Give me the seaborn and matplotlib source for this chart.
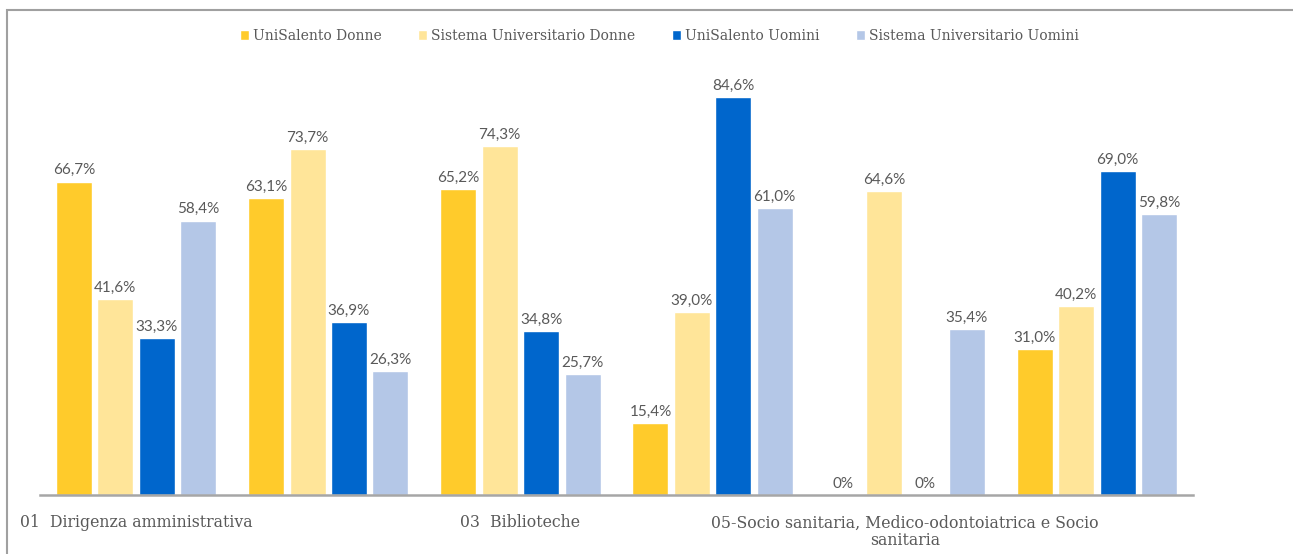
import textwrap
import pandas as pd
import matplotlib.pyplot as plt
import seaborn as sns
from matplotlib.patches import Rectangle

categories = [
    '01  Dirigenza amministrativa',
    '02  Amministrativa e amministrativa-gestionale',
    '03  Biblioteche',
    '04  Tecnica, tecnico-scientifica ed elaborazione dati',
    '05-Socio sanitaria, Medico-odontoiatrica e Socio sanitaria',
    '06  Servizi generali e tecnici',
]
series = ['UniSalento Donne', 'Sistema Universitario Donne',
          'UniSalento Uomini', 'Sistema Universitario Uomini']
unisalento_donne = [66.7, 63.1, 65.2, 15.4, 0.0, 31.0]
sistema_donne = [41.6, 73.7, 74.3, 39.0, 64.6, 40.2]
unisalento_uomini = [33.3, 36.9, 34.8, 84.6, 0.0, 69.0]
sistema_uomini = [58.4, 26.3, 25.7, 61.0, 35.4, 59.8]

colors = ['#FFCB2B', '#FFE599', '#0066CC', '#B4C7E7']
grey = '#595959'

rows = []
for s, vals in zip(series, [unisalento_donne, sistema_donne, unisalento_uomini, sistema_uomini]):
    for c, v in zip(categories, vals):
        rows.append({'Area': c, 'Serie': s, 'Valore': v})
df = pd.DataFrame(rows)

sns.set_style('white')
plt.rcParams['font.family'] = ['DejaVu Serif']

fig = plt.figure(figsize=(12.93, 5.54), dpi=100)
ax = fig.add_axes([40 / 1293, 59 / 554, 1153 / 1293, 423 / 554])

sns.barplot(data=df, x='Area', y='Valore', hue='Serie', order=categories,
            hue_order=series, palette=colors, width=0.862, saturation=1,
            ax=ax, legend=True)

# small white gap between bars
for p in ax.patches:
    w = p.get_width()
    p.set_x(p.get_x() + w * 0.065)
    p.set_width(w * 0.87)

for cont in ax.containers:
    labels = ['0%' if v.get_height() == 0 else f'{v.get_height():.1f}%'.replace('.', ',')
              for v in cont]
    ax.bar_label(cont, labels=labels, padding=3, color=grey, fontsize=11,
                 family='Lato')

ax.set_ylim(0, 90)
ax.set_xlim(-0.5, 5.5)
ax.set_xlabel('')
ax.set_ylabel('')
ax.set_yticks([])
shown = [textwrap.fill(c, 48) if i % 2 == 0 else '' for i, c in enumerate(categories)]
ax.set_xticks(range(len(categories)))
ax.set_xticklabels(shown, fontsize=11.3, color=grey, linespacing=1.05)
ax.tick_params(axis='x', length=0, pad=14)
for side in ['top', 'right', 'left']:
    ax.spines[side].set_visible(False)
ax.spines['bottom'].set_color('#A6A6A6')
ax.spines['bottom'].set_linewidth(1.8)

handles, labs = ax.get_legend_handles_labels()
ax.legend(handles, labs, loc='center', ncol=4, frameon=False,
          fontsize=10, labelcolor=grey, handlelength=0.65, handleheight=0.65,
          handletextpad=0.3, columnspacing=2.6)
ax.legend_.set_bbox_to_anchor((0.510, 1 - 36 / 554), transform=fig.transFigure)

fig.patches.append(Rectangle((7 / 1293, -0.1), 1.2, 1.1 - 10 / 554,
                             transform=fig.transFigure, fill=False,
                             edgecolor='#A0A0A0', linewidth=1.5))

fig.savefig('out.png', dpi=100)
